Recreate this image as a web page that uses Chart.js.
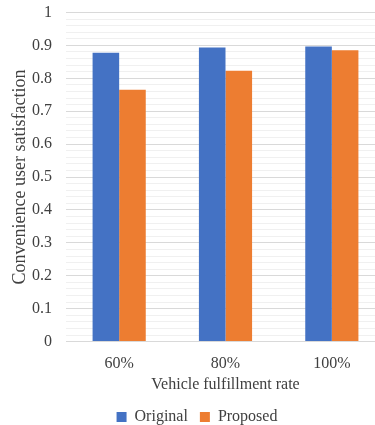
<!DOCTYPE html>
<html>
<head>
<meta charset="utf-8">
<script src="https://cdn.jsdelivr.net/npm/chart.js@4/dist/chart.umd.min.js"></script>
<style>
  html, body { margin: 0; padding: 0; background: #fff; overflow: hidden; }
  #wrap { width: 385px; height: 435px; position: relative; }
</style>
</head>
<body>
<div id="wrap"><canvas id="c"></canvas></div>
<script>
const categories = ['60%', '80%', '100%'];
const originalValues = [0.878, 0.894, 0.897];
const proposedValues = [0.765, 0.823, 0.885];
const seriesNames = ['Original', 'Proposed'];
const yTitle = 'Convenience user satisfaction';
const xTitle = 'Vehicle fulfillment rate';

const FONT = "'Liberation Serif', 'DejaVu Serif', serif";
const TEXT = '#404040';

const isMajor = v => Math.abs(v * 10 - Math.round(v * 10)) < 1e-6;

new Chart(document.getElementById('c'), {
  type: 'bar',
  data: {
    labels: categories,
    datasets: [
      { label: seriesNames[0], data: originalValues, backgroundColor: '#4472C4' },
      { label: seriesNames[1], data: proposedValues, backgroundColor: '#ED7D31' }
    ]
  },
  options: {
    responsive: true,
    maintainAspectRatio: false,
    animation: false,
    layout: { padding: { top: 0, left: 9, right: 0, bottom: 0 } },
    datasets: { bar: { categoryPercentage: 0.5, barPercentage: 1.0 } },
    plugins: {
      tooltip: { enabled: false },
      legend: {
        position: 'bottom',
        labels: {
          boxWidth: 10, boxHeight: 10, padding: 12,
          color: TEXT,
          font: { family: FONT, size: 16 }
        }
      }
    },
    scales: {
      x: {
        grid: { display: false, drawTicks: false },
        border: { display: false },
        ticks: { color: TEXT, font: { family: FONT, size: 16 }, padding: 13 },
        title: { display: true, text: xTitle, color: TEXT, font: { family: FONT, size: 16 }, padding: { top: 1, bottom: 3 } },
        // tighten the gap between category labels and the axis title
        afterFit: s => { s.height -= 13; }
      },
      y: {
        min: 0, max: 1,
        border: { display: false },
        grid: {
          drawTicks: false,
          color: ctx => isMajor(ctx.tick.value) ? '#d9d9d9' : '#f0f0f0',
          lineWidth: 1
        },
        ticks: {
          stepSize: 0.02,
          autoSkip: false,
          padding: 14,
          color: TEXT,
          font: { family: FONT, size: 16 },
          callback: v => isMajor(v) ? String(Math.round(v * 10) / 10) : ''
        },
        title: { display: true, text: yTitle, color: TEXT, font: { family: FONT, size: 18 }, padding: { top: 0, bottom: 0 } },
        afterFit: s => { s.width = 57; s.paddingTop = 12.5; }
      }
    }
  }
});
</script>
</body>
</html>
